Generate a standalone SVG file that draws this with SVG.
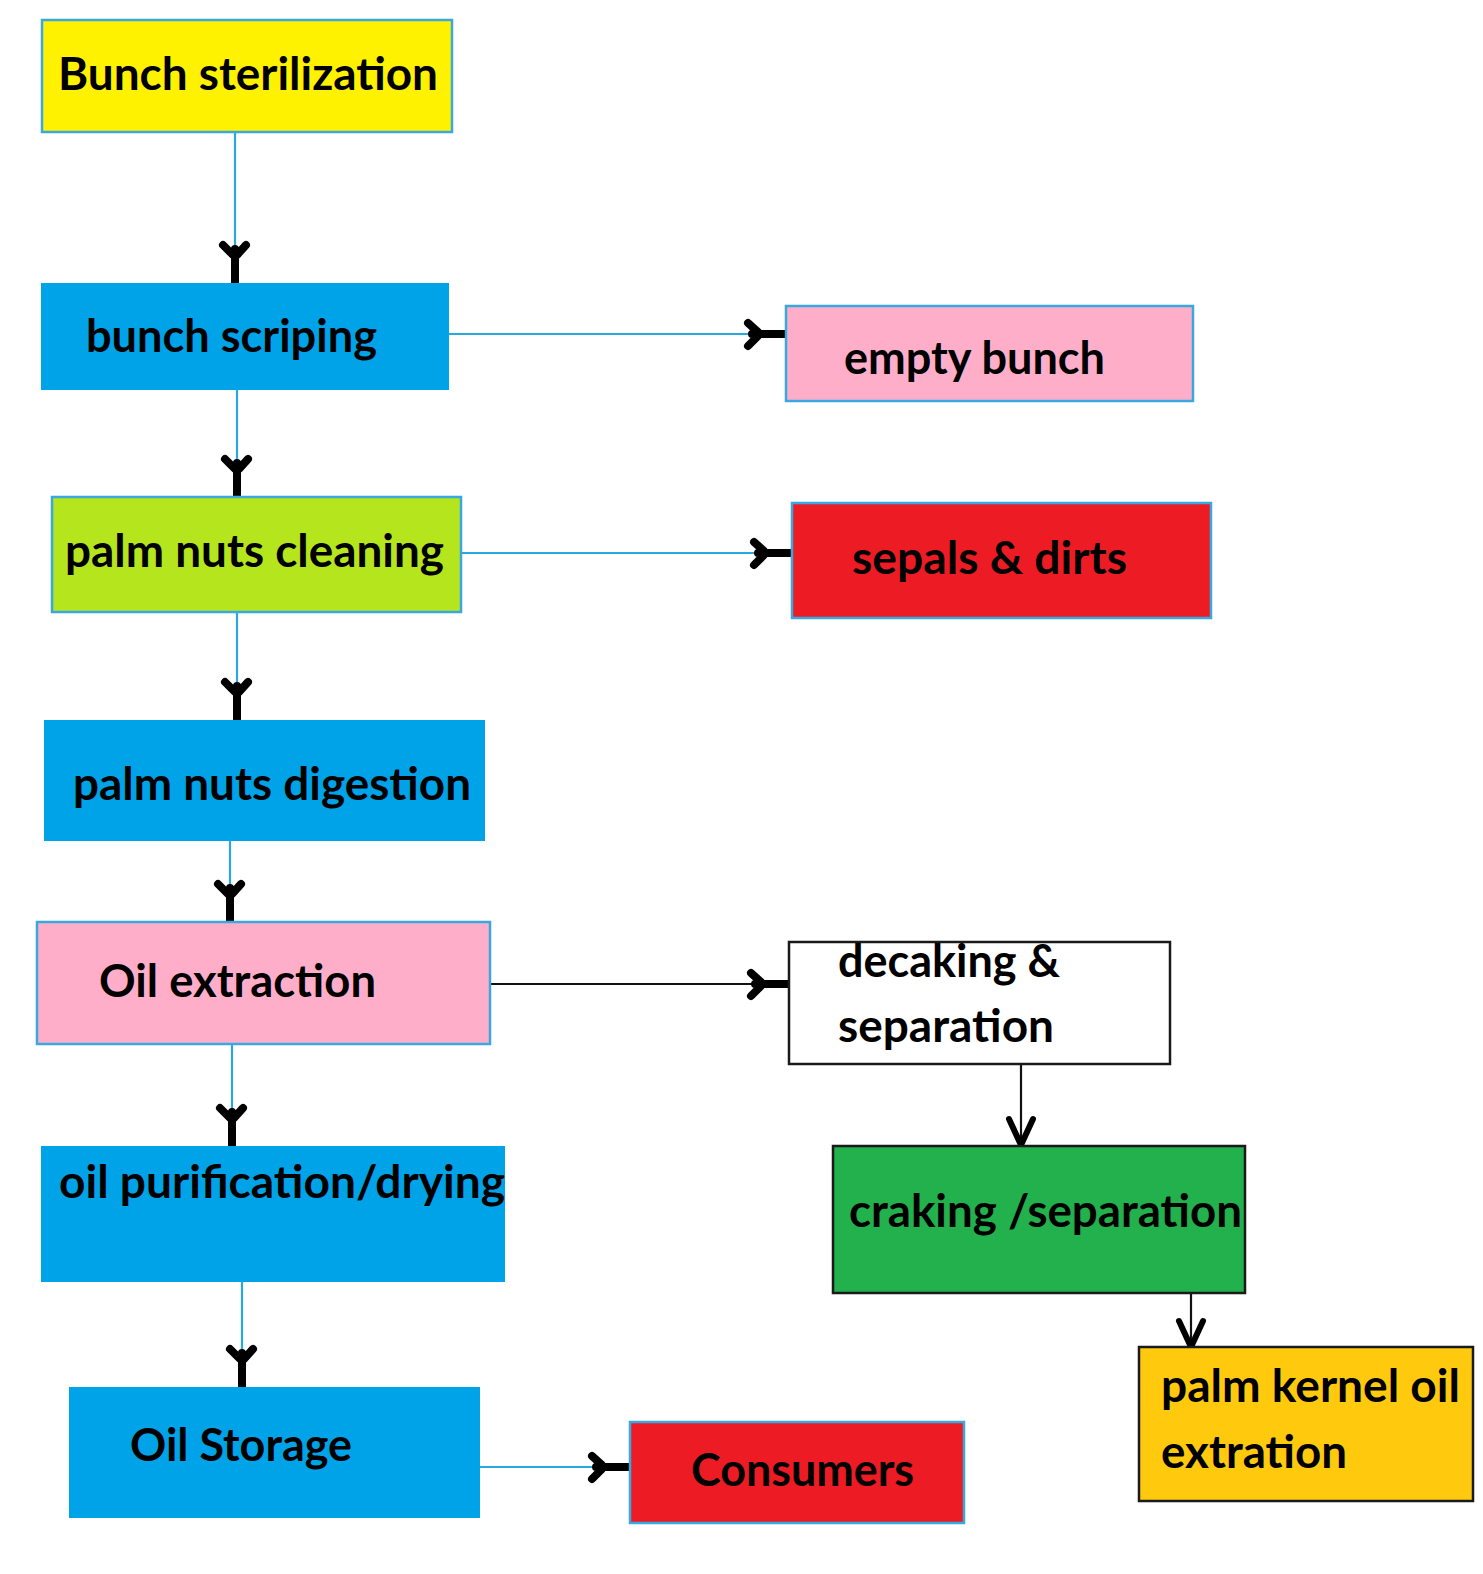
<svg xmlns="http://www.w3.org/2000/svg" width="1483" height="1574" viewBox="0 0 1483 1574">
<style>
.box{stroke-width:2.5}
.bl{stroke:#3aa8e0}
.bk{stroke:#1a1a1a}
.lbl{font-family:Lato,"Open Sans","Liberation Sans",sans-serif;font-weight:700;font-size:46px;fill:#000}
.cb{stroke:#29a8e0;stroke-width:2.2;fill:none}
.ck{stroke:#111;stroke-width:2.2;fill:none}
</style>
<defs>
<marker id="hand" markerUnits="userSpaceOnUse" markerWidth="60" markerHeight="40" viewBox="-45 -20 50 40" refX="0" refY="0" orient="auto" overflow="visible">
<path d="M-38,-11 L-28,-2 L-28,2 L-38,12 M-34,0 L0,0" fill="none" stroke="#000" stroke-width="8" stroke-linecap="round" stroke-linejoin="round"/>
</marker>
<marker id="vee" markerUnits="userSpaceOnUse" markerWidth="40" markerHeight="40" viewBox="-35 -20 40 40" refX="0" refY="0" orient="auto" overflow="visible">
<path d="M-26,-12 L0,0 L-26,12" fill="none" stroke="#000" stroke-width="6" stroke-linecap="round" stroke-linejoin="round"/>
</marker>
</defs>
<rect width="1483" height="1574" fill="#fff"/>
<g id="connectors">
<line class="cb" x1="235" y1="132" x2="235" y2="283" marker-end="url(#hand)"/>
<line class="cb" x1="449" y1="334" x2="786" y2="334" marker-end="url(#hand)"/>
<line class="cb" x1="237" y1="390" x2="237" y2="497" marker-end="url(#hand)"/>
<line class="cb" x1="461" y1="553" x2="792" y2="553" marker-end="url(#hand)"/>
<line class="cb" x1="237" y1="612" x2="237" y2="720" marker-end="url(#hand)"/>
<line class="cb" x1="230" y1="840" x2="230" y2="922" marker-end="url(#hand)"/>
<line class="ck" x1="486" y1="984" x2="789" y2="984" marker-end="url(#hand)"/>
<line class="cb" x1="232" y1="1044" x2="232" y2="1146" marker-end="url(#hand)"/>
<line class="cb" x1="242" y1="1282" x2="242" y2="1387" marker-end="url(#hand)"/>
<line class="cb" x1="480" y1="1467" x2="630" y2="1467" marker-end="url(#hand)"/>
<line class="ck" x1="1021" y1="1064" x2="1021" y2="1145" marker-end="url(#vee)"/>
<line class="ck" x1="1191" y1="1290" x2="1191" y2="1347" marker-end="url(#vee)"/>
</g>
<g id="n-sterilization">
<rect class="box bl" x="42" y="20" width="410" height="112" fill="#fff200"/>
<text class="lbl" x="58" y="90" textLength="380" lengthAdjust="spacingAndGlyphs">Bunch sterilization</text>
</g>
<g id="n-scriping">
<rect x="41" y="283" width="408" height="107" fill="#00a2e8"/>
<text class="lbl" x="86" y="352" textLength="291" lengthAdjust="spacingAndGlyphs">bunch scriping</text>
</g>
<g id="n-empty">
<rect class="box bl" x="786" y="306" width="407" height="95" fill="#ffaec9"/>
<text class="lbl" x="844" y="374" textLength="261" lengthAdjust="spacingAndGlyphs">empty bunch</text>
</g>
<g id="n-cleaning">
<rect class="box bl" x="52" y="497" width="409" height="115" fill="#b5e61d"/>
<text class="lbl" x="65" y="567" textLength="379" lengthAdjust="spacingAndGlyphs">palm nuts cleaning</text>
</g>
<g id="n-sepals">
<rect class="box bl" x="792" y="503" width="419" height="115" fill="#ed1c24"/>
<text class="lbl" x="852" y="574" textLength="275" lengthAdjust="spacingAndGlyphs">sepals &amp; dirts</text>
</g>
<g id="n-digestion">
<rect x="44" y="720" width="441" height="121" fill="#00a2e8"/>
<text class="lbl" x="73" y="800" textLength="398" lengthAdjust="spacingAndGlyphs">palm nuts digestion</text>
</g>
<g id="n-extraction">
<rect class="box bl" x="37" y="922" width="453" height="122" fill="#ffaec9"/>
<text class="lbl" x="99" y="997" textLength="277" lengthAdjust="spacingAndGlyphs">Oil extraction</text>
</g>
<g id="n-decaking">
<rect class="box bk" x="789" y="942" width="381" height="122" fill="#fff"/>
<text class="lbl" x="838" y="977" textLength="222" lengthAdjust="spacingAndGlyphs">decaking &amp;</text>
<text class="lbl" x="838" y="1042" textLength="216" lengthAdjust="spacingAndGlyphs">separation</text>
</g>
<g id="n-purification">
<rect x="41" y="1146" width="464" height="136" fill="#00a2e8"/>
<text class="lbl" x="59" y="1198" textLength="446" lengthAdjust="spacingAndGlyphs">oil purification/drying</text>
</g>
<g id="n-craking">
<rect class="box bk" x="833" y="1146" width="412" height="147" fill="#22b14c"/>
<text class="lbl" x="849" y="1227" textLength="393" lengthAdjust="spacingAndGlyphs">craking /separation</text>
</g>
<g id="n-storage">
<rect x="69" y="1387" width="411" height="131" fill="#00a2e8"/>
<text class="lbl" x="130" y="1461" textLength="222" lengthAdjust="spacingAndGlyphs">Oil Storage</text>
</g>
<g id="n-consumers">
<rect class="box bl" x="630" y="1422" width="334" height="101" fill="#ed1c24"/>
<text class="lbl" x="691" y="1486" textLength="223" lengthAdjust="spacingAndGlyphs">Consumers</text>
</g>
<g id="n-kernel">
<rect class="box bk" x="1139" y="1347" width="334" height="154" fill="#ffc90e"/>
<text class="lbl" x="1161" y="1402" textLength="299" lengthAdjust="spacingAndGlyphs">palm kernel oil</text>
<text class="lbl" x="1161" y="1468" textLength="186" lengthAdjust="spacingAndGlyphs">extration</text>
</g>
</svg>
